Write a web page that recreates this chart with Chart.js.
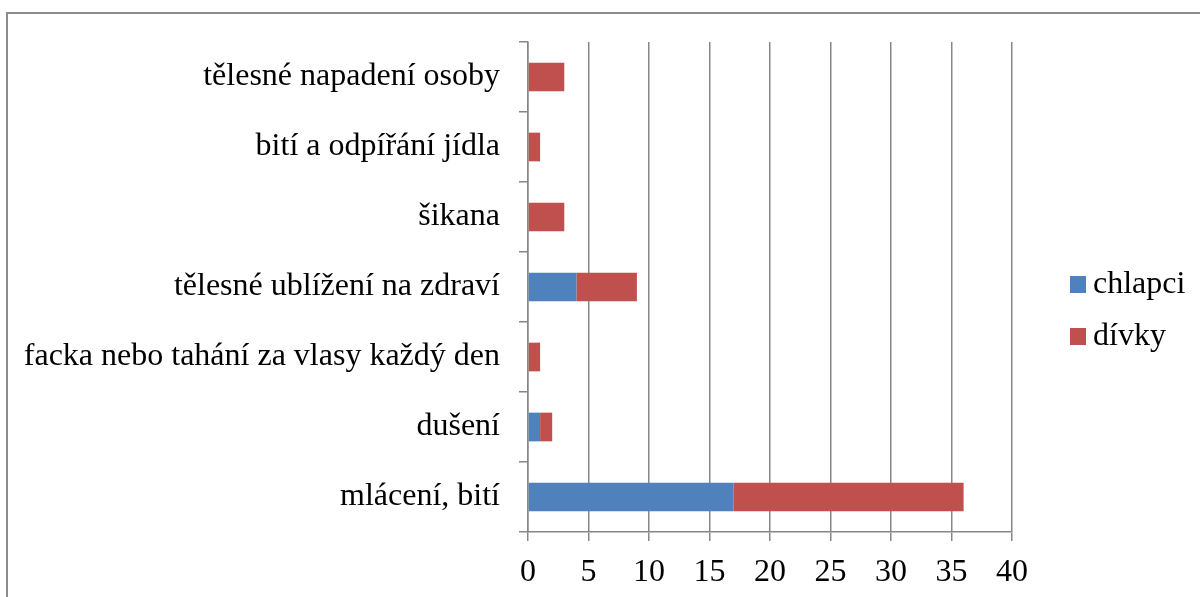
<!DOCTYPE html>
<html>
<head>
<meta charset="utf-8">
<script src="https://cdn.jsdelivr.net/npm/chart.js@4.4.1/dist/chart.umd.min.js"></script>
<style>
html,body{margin:0;padding:0;background:#fff;overflow:hidden;}
#wrap{position:relative;width:1200px;height:597px;}
#frame{position:absolute;left:6px;top:12px;width:1300px;height:700px;border:2px solid #8c8c8c;box-sizing:border-box;pointer-events:none;}
canvas{position:absolute;left:0;top:0;}
</style>
</head>
<body>
<div id="wrap">
<canvas id="c" width="1200" height="597"></canvas>
<div id="frame"></div>
</div>
<script>
const categories = [
  "tělesné napadení osoby",
  "bití a odpířání jídla",
  "šikana",
  "tělesné ublížení na zdraví",
  "facka nebo tahání za vlasy každý den",
  "dušení",
  "mlácení, bití"
];
const chlapci = [0, 0, 0, 4, 0, 1, 17];
const divky = [3, 1, 3, 5, 1, 1, 19];
const seriesNames = ["chlapci", "dívky"];
const seriesColors = ["#4F81BD", "#C0504D"];
const xTicks = [0, 5, 10, 15, 20, 25, 30, 35, 40];

const FONT = "'Liberation Serif', 'Times New Roman', serif";
const GRID = "#878787";

const legendPlugin = {
  id: 'customLegend',
  afterDraw(chart) {
    const ctx = chart.ctx;
    ctx.save();
    ctx.font = "32px " + FONT;
    ctx.textBaseline = "middle";
    ctx.textAlign = "left";
    chart.data.datasets.forEach((ds, i) => {
      const cy = 284 + i * 52;
      ctx.fillStyle = ds.backgroundColor;
      ctx.fillRect(1070, cy - 8, 16, 17);
      ctx.fillStyle = "#000";
      ctx.fillText(ds.label, 1093, cy + 1);
    });
    ctx.restore();
  }
};

new Chart(document.getElementById('c'), {
  type: 'bar',
  data: {
    labels: categories,
    datasets: [
      { label: seriesNames[0], data: chlapci, backgroundColor: seriesColors[0] },
      { label: seriesNames[1], data: divky, backgroundColor: seriesColors[1] }
    ]
  },
  options: {
    indexAxis: 'y',
    responsive: false,
    animation: false,
    devicePixelRatio: 1,
    layout: { padding: { left: 0, right: 188, top: 42, bottom: 0 } },
    datasets: { bar: { barPercentage: 0.41, categoryPercentage: 1.0 } },
    plugins: { legend: { display: false }, tooltip: { enabled: false } },
    scales: {
      x: {
        stacked: true,
        min: 0, max: 40,
        afterBuildTicks: (s) => { s.ticks = xTicks.map(v => ({ value: v })); },
        afterFit: (s) => { s.height = 65; },
        grid: { color: GRID, lineWidth: 1.5, tickLength: 9, drawTicks: true },
        border: { display: true, color: GRID, width: 1.5 },
        ticks: { color: "#000", font: { family: FONT, size: 32 }, padding: 12, maxRotation: 0 }
      },
      y: {
        stacked: true,
        afterFit: (s) => { s.width = 528; },
        grid: { offset: true, drawOnChartArea: false, color: GRID, lineWidth: 1.5, tickLength: 9 },
        border: { display: true, color: GRID, width: 1.5 },
        ticks: { color: "#000", font: { family: FONT, size: 32 }, padding: 19 }
      }
    }
  },
  plugins: [legendPlugin]
});
</script>
</body>
</html>
